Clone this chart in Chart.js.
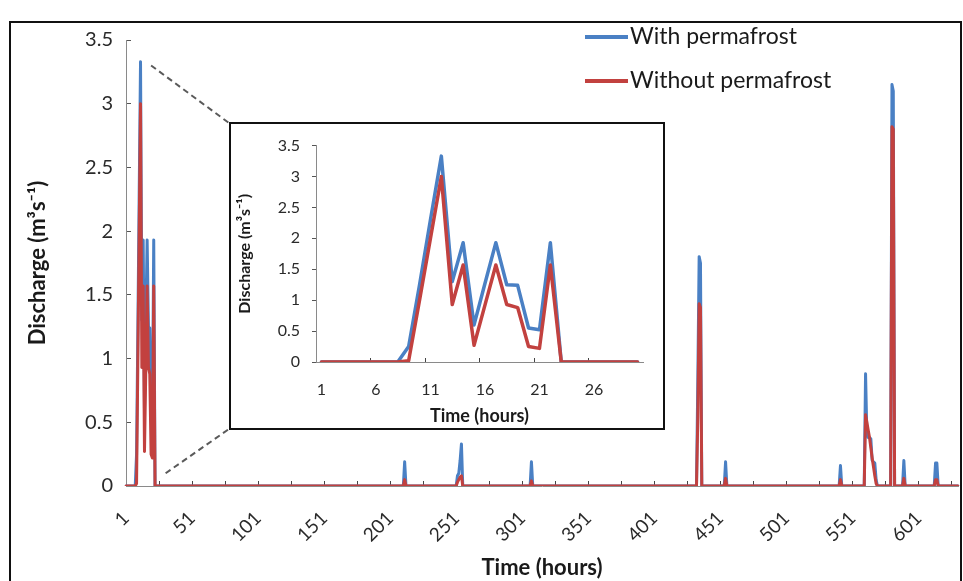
<!DOCTYPE html>
<html>
<head>
<meta charset="utf-8">
<script src="https://cdn.jsdelivr.net/npm/chart.js@4.4.1/dist/chart.umd.min.js"></script>
<style>
  html, body { margin: 0; padding: 0; background: #fff; }
  #wrap { position: relative; width: 963px; height: 581px; overflow: hidden; }
  #frame { position: absolute; left: 9px; top: 21px; width: 953px; height: 620px; border: 2px solid #111; box-sizing: border-box; }
  #mainChart { position: absolute; left: 0; top: 0; }
  #insetBox { position: absolute; left: 229px; top: 122px; width: 436px; height: 308px; border: 2px solid #111; box-sizing: border-box; background: #fff; }
  #insetChart { position: absolute; left: 0; top: 0; }
</style>
</head>
<body>
<div id="wrap">
  <div id="frame"></div>
  <canvas id="mainChart" width="963" height="581"></canvas>
  <div id="insetBox"><canvas id="insetChart" width="432" height="304"></canvas></div>
</div>
<script>
// first storm, hours 1-30 (also shown in the inset)
const insetHours = [1,2,3,4,5,6,7,8,9,10,11,12,13,14,15,16,17,18,19,20,21,22,23,24,25,26,27,28,29,30];
const insetWith = [0,0,0,0,0,0,0,0,0.25,1.25,2.3,3.33,1.3,1.93,0.6,1.27,1.93,1.25,1.24,0.55,0.52,1.93,0,0,0,0,0,0,0,0];
const insetWithout = [0,0,0,0,0,0,0,0,0.02,1.0,2.0,3.0,0.93,1.57,0.27,0.92,1.57,0.93,0.88,0.25,0.22,1.57,0,0,0,0,0,0,0,0];
const insetTickLabels = [1, 6, 11, 16, 21, 26];

// later events (all other hours are zero)
const laterHours   = [212, 252, 253, 254, 255, 308, 434, 435, 436, 455, 542, 561, 562, 563, 564, 565, 566, 567, 568, 569, 581, 582, 590, 614, 615];
const laterWith    = [0.19, 0.08, 0.1, 0.2, 0.33, 0.19, 0.85, 1.8, 1.75, 0.19, 0.16, 0.88, 0.4, 0.38, 0.38, 0.37, 0.2, 0.19, 0.18, 0.05, 3.15, 3.1, 0.2, 0.18, 0.18];
const laterWithout = [0.05, 0.03, 0.05, 0.07, 0.08, 0.04, 0.55, 1.43, 1.4, 0.06, 0.05, 0.56, 0.5, 0.44, 0.38, 0.3, 0.22, 0.15, 0.08, 0.02, 2.82, 2.8, 0.06, 0.05, 0.05];

const lastHour = 631;
const mainTickLabels = [1, 51, 101, 151, 201, 251, 301, 351, 401, 451, 501, 551, 601];
const yTickValues = [0, 0.5, 1, 1.5, 2, 2.5, 3, 3.5];

const blue = '#4A80C4';
const red = '#C2413F';

// full hourly series for the main chart
const hours = [];
const withPF = [];
const withoutPF = [];
for (let h = 1; h <= lastHour; h++) {
  hours.push(String(h));
  const i = insetHours.indexOf(h);
  const j = laterHours.indexOf(h);
  if (i >= 0) { withPF.push(insetWith[i]); withoutPF.push(insetWithout[i]); }
  else if (j >= 0) { withPF.push(laterWith[j]); withoutPF.push(laterWithout[j]); }
  else { withPF.push(0); withoutPF.push(0); }
}

const fontName = 'Lato, "Open Sans", sans-serif';

const sideLegend = {
  id: 'sideLegend',
  afterDraw(chart) {
    const ctx = chart.ctx;
    chart.data.datasets.forEach((ds, i) => {
      const y = 37 + i * 44;
      ctx.save();
      ctx.strokeStyle = ds.borderColor;
      ctx.lineWidth = 4;
      ctx.beginPath();
      ctx.moveTo(585, y);
      ctx.lineTo(628, y);
      ctx.stroke();
      ctx.fillStyle = '#1a1a1a';
      ctx.font = '23px ' + fontName;
      ctx.textBaseline = 'middle';
      ctx.fillText(ds.label, 630, y);
      ctx.restore();
    });
  }
};

// dashed lines from the first storm to the inset box
const zoomLines = {
  id: 'zoomLines',
  afterDraw(chart) {
    const box = document.getElementById('insetBox');
    const xs = chart.scales.x, ys = chart.scales.y;
    const ctx = chart.ctx;
    ctx.save();
    ctx.strokeStyle = '#5a5a5a';
    ctx.lineWidth = 2;
    ctx.setLineDash([6, 4]);
    ctx.beginPath();
    ctx.moveTo(xs.getPixelForValue(19), ys.getPixelForValue(3.3));
    ctx.lineTo(box.offsetLeft, box.offsetTop + 1);
    ctx.moveTo(xs.getPixelForValue(30), ys.getPixelForValue(0.1));
    ctx.lineTo(box.offsetLeft, box.offsetTop + box.offsetHeight - 1);
    ctx.stroke();
    ctx.restore();
  }
};

new Chart(document.getElementById('mainChart'), {
  type: 'line',
  data: {
    labels: hours,
    datasets: [
      { label: 'With permafrost', data: withPF, borderColor: blue, order: 1 },
      { label: 'Without permafrost', data: withoutPF, borderColor: red, order: 0 }
    ]
  },
  options: {
    responsive: false,
    animation: false,
    elements: {
      point: { radius: 0 },
      line: { borderWidth: 3, tension: 0, borderJoinStyle: 'round', borderCapStyle: 'round' }
    },
    layout: { padding: { left: 25, top: 40, right: 5, bottom: 0 } },
    plugins: { legend: { display: false }, tooltip: { enabled: false } },
    scales: {
      x: {
        afterFit: s => { s.height = 95; s.paddingLeft = 0; s.paddingRight = 0; },
        title: { display: true, text: 'Time (hours)', color: '#1a1a1a', font: { family: fontName, size: 22, weight: 'bold' }, padding: { top: 0, bottom: 0 } },
        border: { color: '#8a8a8a' },
        grid: {
          drawOnChartArea: false,
          tickLength: -5,
          tickColor: c => (c.index % 25 === 0 ? '#444' : 'rgba(0,0,0,0)')
        },
        ticks: {
          autoSkip: false,
          minRotation: 45,
          maxRotation: 45,
          padding: 26,
          color: '#2a2a2a',
          font: { family: fontName, size: 19 },
          callback: function (v) {
            const lab = this.getLabelForValue(v);
            return mainTickLabels.includes(Number(lab)) ? lab : '';
          }
        }
      },
      y: {
        min: 0,
        max: 3.5,
        afterFit: s => { s.width = 101; },
        afterBuildTicks: s => { s.ticks = yTickValues.map(v => ({ value: v })); },
        title: { display: true, text: 'Discharge (m³s⁻¹)', color: '#1a1a1a', font: { family: fontName, size: 22, weight: 'bold' }, padding: { top: 0, bottom: 0 } },
        border: { color: '#8a8a8a' },
        grid: { drawOnChartArea: false, tickLength: -5, tickColor: '#555' },
        ticks: { padding: 18, color: '#2a2a2a', font: { family: fontName, size: 20 }, callback: v => String(v) }
      }
    }
  },
  plugins: [zoomLines, sideLegend]
});

new Chart(document.getElementById('insetChart'), {
  type: 'line',
  data: {
    labels: insetHours.map(String),
    datasets: [
      { label: 'With permafrost', data: insetWith, borderColor: blue, order: 1 },
      { label: 'Without permafrost', data: insetWithout, borderColor: red, order: 0 }
    ]
  },
  options: {
    responsive: false,
    animation: false,
    elements: {
      point: { radius: 0 },
      line: { borderWidth: 3.5, tension: 0, borderJoinStyle: 'round', borderCapStyle: 'round' }
    },
    layout: { padding: { left: 4, top: 17, right: 20, bottom: 0 } },
    plugins: { legend: { display: false }, tooltip: { enabled: false } },
    scales: {
      x: {
        offset: true,
        afterFit: s => { s.height = 66; s.paddingLeft = 0; s.paddingRight = 0; },
        title: { display: true, text: 'Time (hours)', color: '#1a1a1a', font: { family: fontName, size: 18, weight: 'bold' }, padding: { top: 0, bottom: 1 } },
        border: { color: '#8a8a8a' },
        grid: {
          offset: true,
          drawOnChartArea: false,
          tickLength: -4,
          tickColor: c => (c.index % 5 === 0 ? '#444' : 'rgba(0,0,0,0)')
        },
        ticks: {
          autoSkip: false,
          maxRotation: 0,
          padding: 22,
          color: '#2a2a2a',
          font: { family: fontName, size: 16 },
          callback: function (v) {
            const lab = this.getLabelForValue(v);
            return insetTickLabels.includes(Number(lab)) ? lab : '';
          }
        }
      },
      y: {
        min: 0,
        max: 3.5,
        afterFit: s => { s.width = 81; },
        afterBuildTicks: s => { s.ticks = yTickValues.map(v => ({ value: v })); },
        title: { display: true, text: 'Discharge (m³s⁻¹)', color: '#1a1a1a', font: { family: fontName, size: 16, weight: 'bold' }, padding: { top: 0, bottom: 0 } },
        border: { color: '#8a8a8a' },
        grid: { drawOnChartArea: false, tickLength: 4, tickColor: '#555' },
        ticks: { padding: 12, color: '#2a2a2a', font: { family: fontName, size: 16 }, callback: v => String(v) }
      }
    }
  }
});
</script>
</body>
</html>
